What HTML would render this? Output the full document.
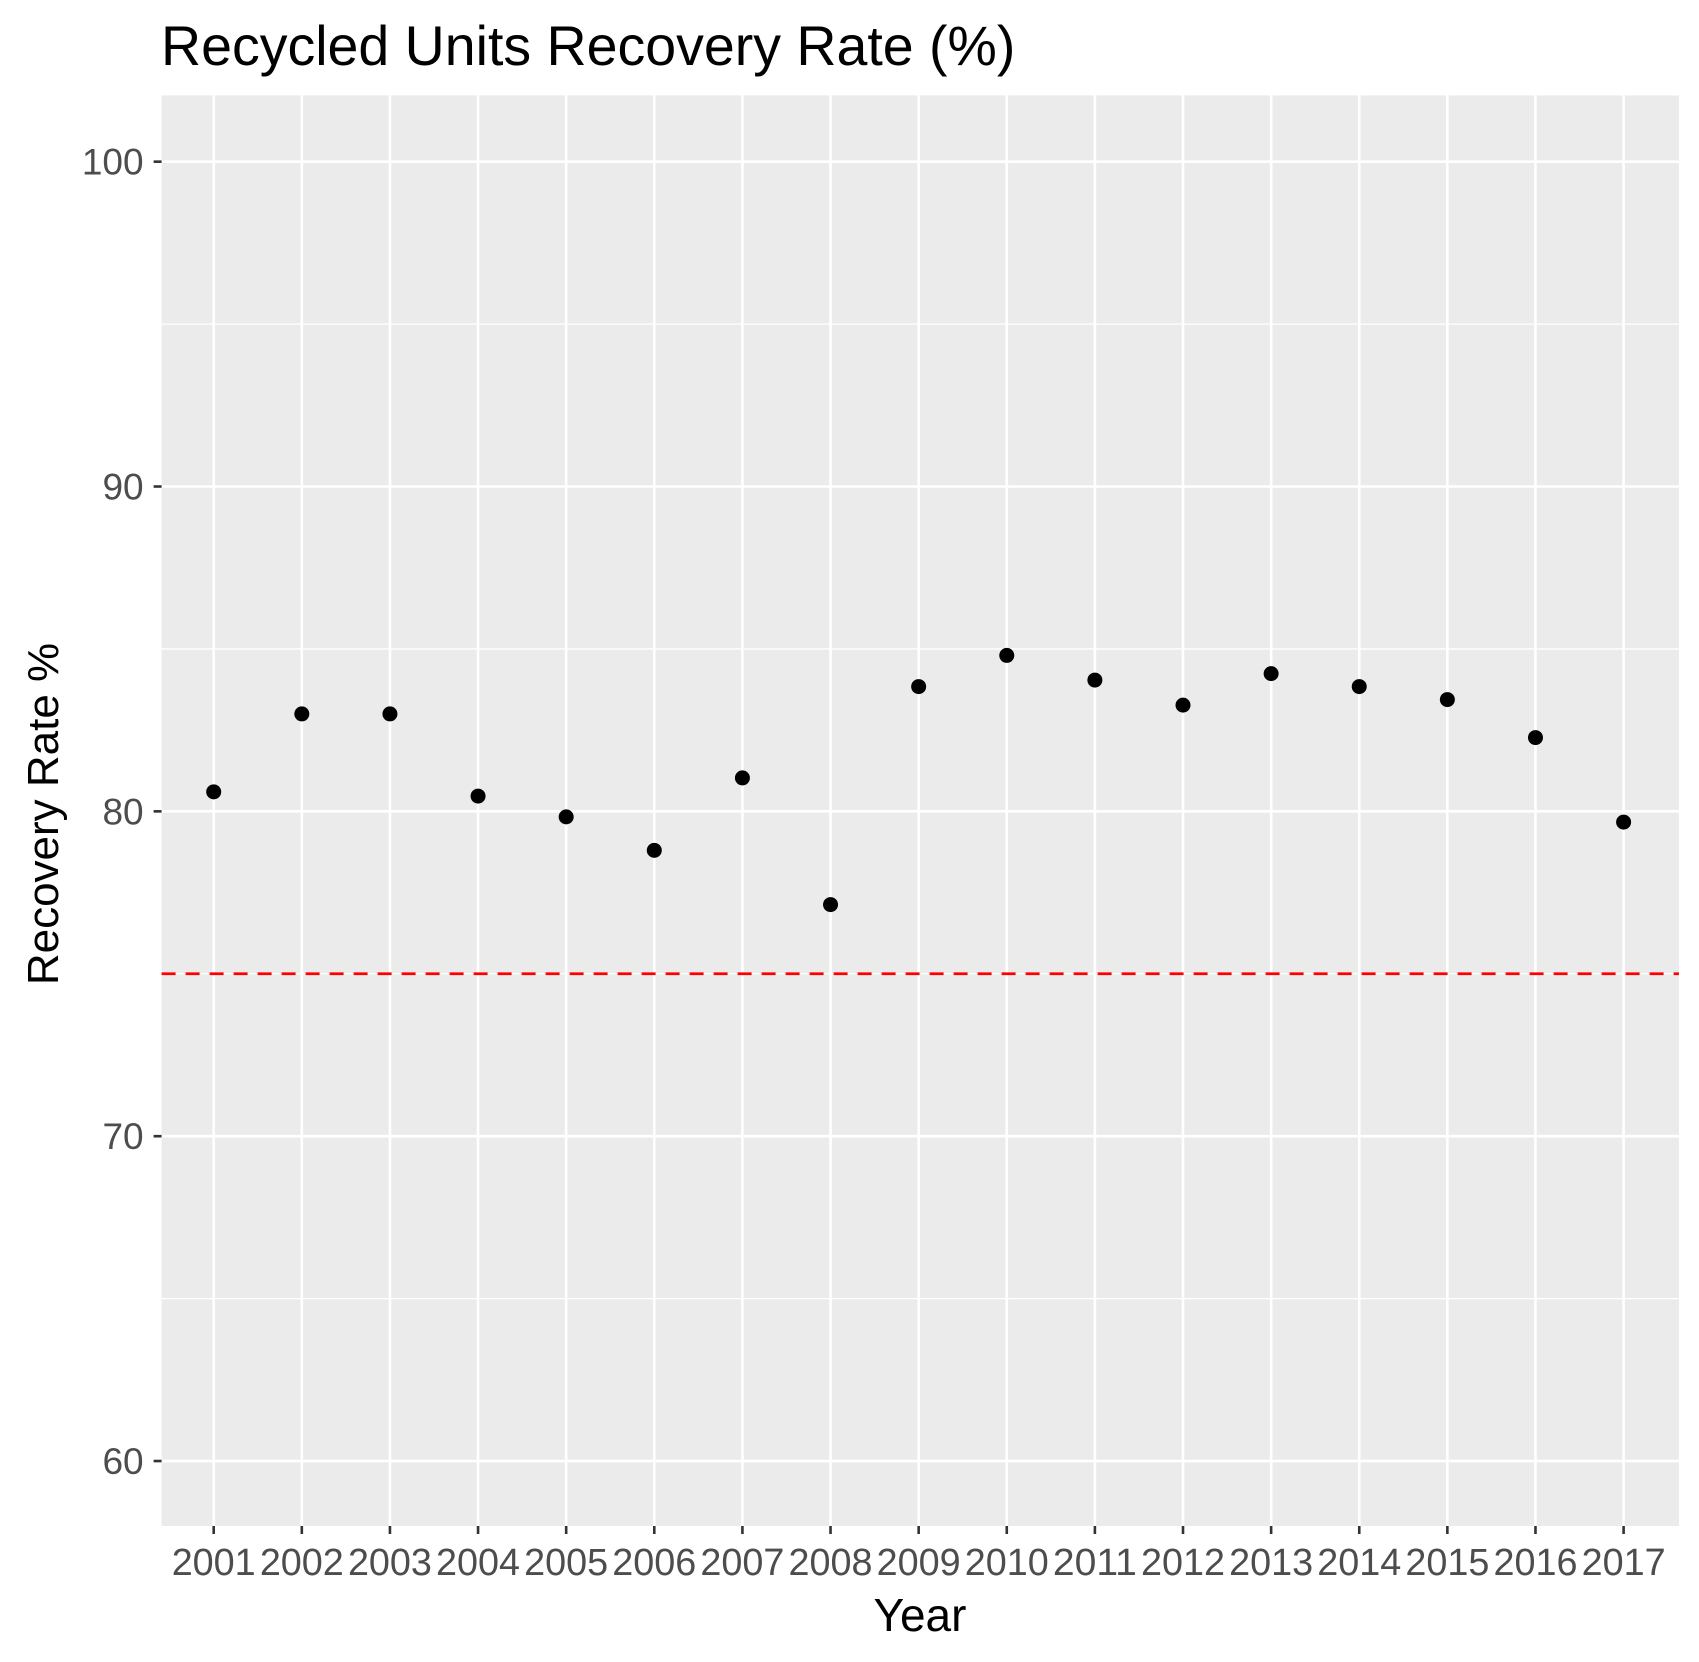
<!DOCTYPE html>
<html><head><meta charset="utf-8"><style>
body{margin:0;background:#fff;}
svg{display:block;font-family:"Liberation Sans",Arial,sans-serif;}
</style></head><body>
<svg id="chart" width="1699" height="1662">
<text x="161" y="65" font-size="55.5" fill="#000">Recycled Units Recovery Rate (%)</text>
<rect x="161.6" y="95.4" width="1517.4" height="1430.6" fill="#ebebeb"/>
<g id="grid"></g>
<g id="marks"></g>
<g id="axes"></g>
<text x="920" y="1631" font-size="46" text-anchor="middle" fill="#000">Year</text>
<text transform="translate(58,814) rotate(-90)" font-size="44" text-anchor="middle" fill="#000">Recovery Rate %</text>
</svg>
<script>
const years=["2001","2002","2003","2004","2005","2006","2007","2008","2009","2010","2011","2012","2013","2014","2015","2016","2017"];
const rates=[80.6,83.0,83.0,80.47,79.83,78.8,81.03,77.13,83.84,84.8,84.04,83.27,84.24,83.84,83.44,82.27,79.67];
const yTicks=[60,70,80,90,100];
const yMinor=[65,75,85,95];
const threshold=75;
const NS="http://www.w3.org/2000/svg";
const L=161.6,R=1679,T=95.4,B=1526,yMin=58.0,yMax=102.04;
const x0=213.7,step=(1623.6-213.7)/16;
function xs(i){return x0+i*step;}
function ys(v){return B-(v-yMin)/(yMax-yMin)*(B-T);}
function mk(tag,attrs,parent){const e=document.createElementNS(NS,tag);for(const k in attrs)e.setAttribute(k,attrs[k]);parent.appendChild(e);return e;}
const grid=document.getElementById('grid'),marks=document.getElementById('marks'),axes=document.getElementById('axes');
yMinor.forEach(v=>{const e=mk('line',{x1:L,x2:R,y1:ys(v),y2:ys(v),stroke:'#fff','stroke-width':1.3},grid);

});
yTicks.forEach(v=>{const e=mk('line',{x1:L,x2:R,y1:ys(v),y2:ys(v),stroke:'#fff','stroke-width':2.6},grid);


const t=mk('line',{x1:L-8,x2:L,y1:ys(v),y2:ys(v),stroke:'#333','stroke-width':2.6},axes);


const l=mk('text',{x:L-18,y:ys(v)+13,'font-size':37,'text-anchor':'end',fill:'#4d4d4d'},axes);l.textContent=v;

});
years.forEach((y,i)=>{const e=mk('line',{x1:xs(i),x2:xs(i),y1:T,y2:B,stroke:'#fff','stroke-width':2.6},grid);


const t=mk('line',{x1:xs(i),x2:xs(i),y1:B,y2:B+8,stroke:'#333','stroke-width':2.6},axes);


const l=mk('text',{x:xs(i),y:B+49,'font-size':38,'text-anchor':'middle',fill:'#4d4d4d',textLength:84,lengthAdjust:'spacingAndGlyphs'},axes);l.textContent=y;

});
const th=mk('line',{x1:L,x2:R,y1:ys(threshold),y2:ys(threshold),stroke:'#ff0000','stroke-width':2.8,'stroke-dasharray':'14,10'},marks);


rates.forEach((v,i)=>{const c=mk('circle',{cx:xs(i),cy:ys(v),r:7.5,fill:'#000'},marks);

});
</script>
</body></html>
